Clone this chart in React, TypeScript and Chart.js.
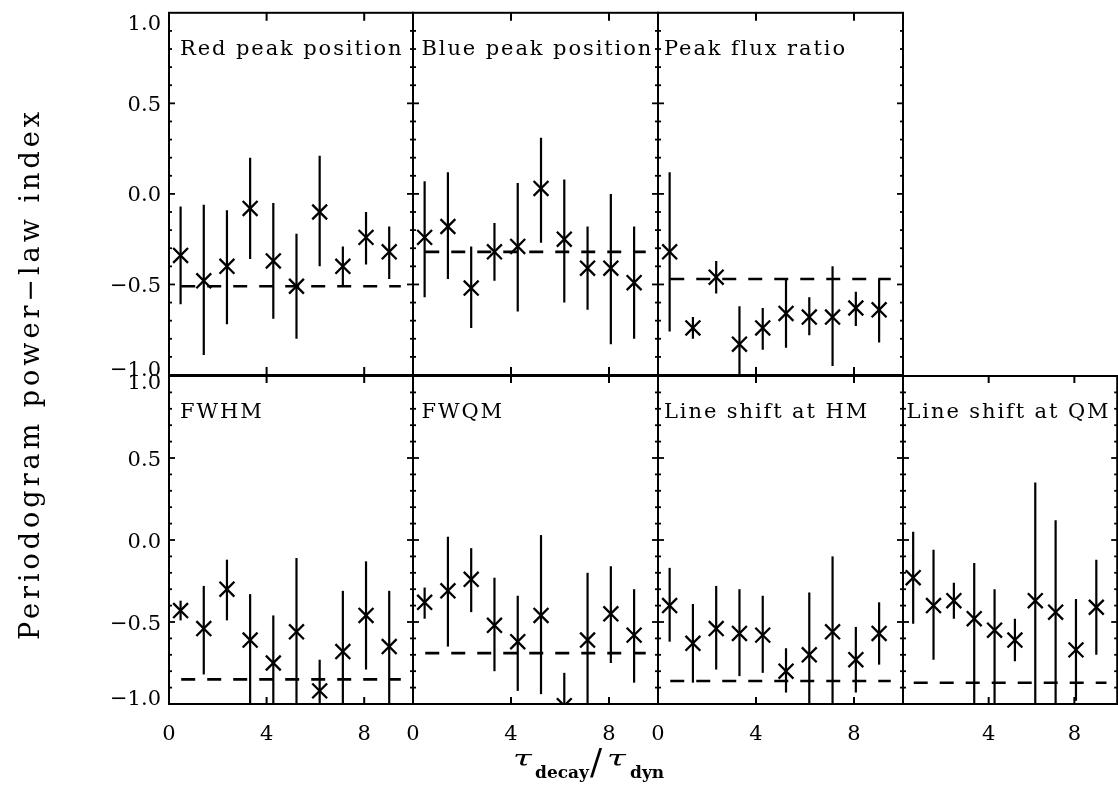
import React, { useEffect, useRef } from "react";
import { Chart, registerables } from "chart.js";

Chart.register(...registerables);

const W = 1130;
const H = 788;

// ---- data ----
const tauBins = [0.475, 1.425, 2.375, 3.325, 4.275, 5.225, 6.175, 7.125, 8.075, 9.025];
const refStart = 0.5;
const refEnd = 9.5;

const xTickValues = [0, 4, 8];
const xTickLabels = ["0", "4", "8"];
const xTickLabelsLast = ["", "4", "8"];
const yTickValues = [-1, -0.5, 0, 0.5, 1];
const yTickLabels = ["\u22121.0", "\u22120.5", "0.0", "0.5", "1.0"];

const panelTitles = [
  "Red peak position",
  "Blue peak position",
  "Peak flux ratio",
  "FWHM",
  "FWQM",
  "Line shift at HM",
  "Line shift at QM",
];

const redVal = [-0.34, -0.48, -0.4, -0.08, -0.37, -0.51, -0.1, -0.4, -0.24, -0.32];
const redLo = [-0.61, -0.89, -0.72, -0.36, -0.69, -0.8, -0.4, -0.51, -0.39, -0.47];
const redHi = [-0.07, -0.06, -0.09, 0.2, -0.05, -0.22, 0.21, -0.29, -0.1, -0.18];
const redRef = -0.51;

const blueVal = [-0.24, -0.18, -0.52, -0.32, -0.29, 0.03, -0.25, -0.41, -0.41, -0.49];
const blueLo = [-0.57, -0.47, -0.74, -0.48, -0.65, -0.27, -0.6, -0.64, -0.83, -0.8];
const blueHi = [0.07, 0.12, -0.29, -0.16, 0.06, 0.31, 0.08, -0.18, 0.0, -0.18];
const blueRef = -0.32;

const fluxVal = [-0.32, -0.74, -0.46, -0.83, -0.74, -0.66, -0.68, -0.68, -0.63, -0.64];
const fluxLo = [-0.76, -0.8, -0.55, -1.05, -0.86, -0.85, -0.78, -0.95, -0.73, -0.82];
const fluxHi = [0.12, -0.68, -0.37, -0.62, -0.63, -0.47, -0.57, -0.4, -0.54, -0.47];
const fluxRef = -0.47;

const fwhmVal = [-0.43, -0.54, -0.3, -0.61, -0.75, -0.56, -0.92, -0.68, -0.46, -0.65];
const fwhmLo = [-0.49, -0.82, -0.49, -1.05, -1.05, -1.05, -1.05, -1.05, -0.79, -1.05];
const fwhmHi = [-0.37, -0.28, -0.12, -0.33, -0.46, -0.11, -0.73, -0.31, -0.13, -0.31];
const fwhmRef = -0.85;

const fwqmVal = [-0.38, -0.31, -0.24, -0.52, -0.62, -0.46, -1.01, -0.61, -0.45, -0.58];
const fwqmLo = [-0.48, -0.65, -0.44, -0.8, -0.92, -0.94, -1.05, -1.05, -0.75, -0.87];
const fwqmHi = [-0.29, 0.02, -0.05, -0.23, -0.34, 0.03, -0.81, -0.2, -0.16, -0.3];
const fwqmRef = -0.69;

const hmVal = [-0.4, -0.63, -0.54, -0.57, -0.58, -0.8, -0.7, -0.56, -0.73, -0.57];
const hmLo = [-0.62, -0.87, -0.79, -0.83, -0.81, -0.93, -1.05, -1.05, -0.93, -0.76];
const hmHi = [-0.17, -0.39, -0.28, -0.3, -0.34, -0.66, -0.32, -0.1, -0.53, -0.38];
const hmRef = -0.86;

const qmVal = [-0.23, -0.4, -0.37, -0.48, -0.55, -0.61, -0.37, -0.44, -0.67, -0.41];
const qmLo = [-0.51, -0.73, -0.48, -1.05, -1.05, -0.74, -1.05, -1.05, -0.98, -0.7];
const qmHi = [0.05, -0.06, -0.26, -0.14, -0.3, -0.48, 0.35, 0.12, -0.36, -0.12];
const qmRef = -0.87;

const panelSeries = [
  { val: redVal, lo: redLo, hi: redHi, ref: redRef },
  { val: blueVal, lo: blueLo, hi: blueHi, ref: blueRef },
  { val: fluxVal, lo: fluxLo, hi: fluxHi, ref: fluxRef },
  { val: fwhmVal, lo: fwhmLo, hi: fwhmHi, ref: fwhmRef },
  { val: fwqmVal, lo: fwqmLo, hi: fwqmHi, ref: fwqmRef },
  { val: hmVal, lo: hmLo, hi: hmHi, ref: hmRef },
  { val: qmVal, lo: qmLo, hi: qmHi, ref: qmRef },
];

// ---- layout ----
const cols = [
  { l: 169, r: 413, dx: 11 },
  { l: 413, r: 658, dx: 8.5 },
  { l: 658, r: 903, dx: 6 },
  { l: 903, r: 1126, dx: 3.5 },
];
const rows = [
  { t: 5, b: 375, xtl: 8, topAdj: 10 },
  { t: 376, b: 704, xtl: 7, topAdj: 5 },
];
const panelPos = [
  { c: 0, r: 0 },
  { c: 1, r: 0 },
  { c: 2, r: 0 },
  { c: 0, r: 1 },
  { c: 1, r: 1 },
  { c: 2, r: 1 },
  { c: 3, r: 1 },
];

const SERIF = '"DejaVu Serif", serif';

function line(ctx: CanvasRenderingContext2D, x1: number, y1: number, x2: number, y2: number) {
  ctx.beginPath();
  ctx.moveTo(x1, y1);
  ctx.lineTo(x2, y2);
  ctx.stroke();
}

function drawTau(ctx: CanvasRenderingContext2D, x: number, y: number) {
  ctx.save();
  ctx.translate(x, y);
  ctx.scale(1.55, 1);
  ctx.font = `italic 22px ${SERIF}`;
  ctx.fillText("\u03C4", 0, 0);
  ctx.restore();
}

function drawPageText(ctx: CanvasRenderingContext2D) {
  ctx.save();
  ctx.fillStyle = "#000";
  // y title
  ctx.save();
  ctx.translate(39, 374);
  ctx.rotate(-Math.PI / 2);
  ctx.font = `27px ${SERIF}`;
  (ctx as any).letterSpacing = "4px";
  ctx.textAlign = "center";
  ctx.textBaseline = "alphabetic";
  ctx.fillText("Periodogram power\u2212law index", 0, 0);
  ctx.restore();
  // x title
  ctx.textAlign = "left";
  ctx.textBaseline = "alphabetic";
  (ctx as any).letterSpacing = "0px";
  drawTau(ctx, 513, 766);
  ctx.font = `bold 17px ${SERIF}`;
  ctx.fillText("decay", 535, 778);
  ctx.font = `36px ${SERIF}`;
  ctx.fillText("/", 590, 774);
  drawTau(ctx, 607, 766);
  ctx.font = `bold 17px ${SERIF}`;
  ctx.fillText("dyn", 630, 778);
  ctx.restore();
}

function Panel({ idx }: { idx: number }) {
  const ref = useRef<HTMLCanvasElement>(null);
  useEffect(() => {
    const s = panelSeries[idx];
    const pos = panelPos[idx];
    const col = cols[pos.c];
    const row = rows[pos.r];
    const showY = pos.c === 0;
    const showX = pos.r === 1;
    const xLabels = pos.c === 3 ? xTickLabelsLast : xTickLabels;

    const plugin = {
      id: "idlPanel" + idx,
      beforeDatasetsDraw(chart: any) {
        const { ctx, chartArea: a, scales } = chart;
        const xs = scales.x;
        const ys = scales.y;
        ctx.save();
        ctx.beginPath();
        ctx.rect(a.left, a.top, a.right - a.left, a.bottom - a.top);
        ctx.clip();
        ctx.strokeStyle = "#000";
        ctx.lineWidth = 2.2;
        tauBins.forEach((t, i) => {
          const px = xs.getPixelForValue(t);
          line(ctx, px, ys.getPixelForValue(s.lo[i]), px, ys.getPixelForValue(s.hi[i]));
        });
        ctx.restore();
      },
      afterDraw(chart: any) {
        const { ctx, chartArea: a, scales } = chart;
        const xs = scales.x;
        const ys = scales.y;
        ctx.save();
        ctx.strokeStyle = "#000";
        ctx.fillStyle = "#000";
        ctx.lineWidth = 2;
        ctx.strokeRect(a.left, a.top, a.right - a.left, a.bottom - a.top);
        // x ticks
        xTickValues.forEach((v) => {
          if (v <= xs.min || v >= xs.max) return;
          const px = xs.getPixelForValue(v);
          line(ctx, px, a.bottom, px, a.bottom - row.xtl);
          line(ctx, px, a.top, px, a.top + row.xtl);
        });
        // y ticks (major every 0.5, minor every 0.1)
        ctx.lineWidth = 1.8;
        for (let k = -9; k <= 9; k++) {
          const py = ys.getPixelForValue(k / 10);
          const len = k % 5 === 0 ? 6 : 3;
          line(ctx, a.left, py, a.left + len, py);
          line(ctx, a.right, py, a.right - len, py);
        }
        // tick labels
        ctx.font = `21px ${SERIF}`;
        ctx.textBaseline = "alphabetic";
        if (showY) {
          ctx.textAlign = "right";
          yTickValues.forEach((v, i) => {
            const py = ys.getPixelForValue(v);
            const adj = v >= 1 ? row.topAdj : v <= -1 ? -7 : 0;
            ctx.fillText(yTickLabels[i], a.left - 8, py + 7.5 + adj);
          });
        }
        if (showX) {
          ctx.textAlign = "center";
          xTickValues.forEach((v, i) => {
            const px = xs.getPixelForValue(v);
            if (xLabels[i]) ctx.fillText(xLabels[i], px, a.bottom + 36);
          });
        }
        // panel title
        ctx.textAlign = "left";
        ctx.font = `21px ${SERIF}`;
        (ctx as any).letterSpacing = "1.9px";
        ctx.fillText(panelTitles[idx], a.left + col.dx, a.top + 42);
        (ctx as any).letterSpacing = "0px";
        ctx.restore();
        if (idx === 0) drawPageText(ctx);
      },
    };

    const chart = new Chart(ref.current as HTMLCanvasElement, {
      type: "scatter",
      data: {
        datasets: [
          {
            type: "line",
            data: [
              { x: refStart, y: s.ref },
              { x: refEnd, y: s.ref },
            ],
            borderColor: "#000",
            borderWidth: 2.6,
            borderDash: [14, 12],
            pointRadius: 0,
            fill: false,
            clip: 0,
          } as any,
          {
            type: "scatter",
            data: tauBins.map((t, i) => ({ x: t, y: s.val[i] })),
            pointStyle: "crossRot",
            pointRadius: 10.5,
            pointBorderWidth: 2.3,
            borderColor: "#000",
            backgroundColor: "#000",
            clip: 0,
          } as any,
        ],
      },
      options: {
        animation: false,
        responsive: false,
        maintainAspectRatio: false,
        events: [],
        layout: {
          padding: { left: col.l, top: row.t, right: W - col.r, bottom: H - row.b },
        },
        scales: {
          x: { type: "linear", min: 0, max: 10, display: false },
          y: { type: "linear", min: -1, max: 1, display: false },
        },
        plugins: { legend: { display: false }, tooltip: { enabled: false } },
      },
      plugins: [plugin],
    });
    return () => chart.destroy();
  }, [idx]);
  return (
    <canvas
      ref={ref}
      width={W}
      height={H}
      style={{ position: "absolute", left: 0, top: 0, width: W, height: H }}
    />
  );
}

export default function App() {
  return (
    <div
      style={{
        position: "fixed",
        left: 0,
        top: 0,
        width: 1118,
        height: 788,
        overflow: "hidden",
        background: "#fff",
      }}
    >
      {panelTitles.map((_, i) => (
        <Panel key={i} idx={i} />
      ))}
    </div>
  );
}
